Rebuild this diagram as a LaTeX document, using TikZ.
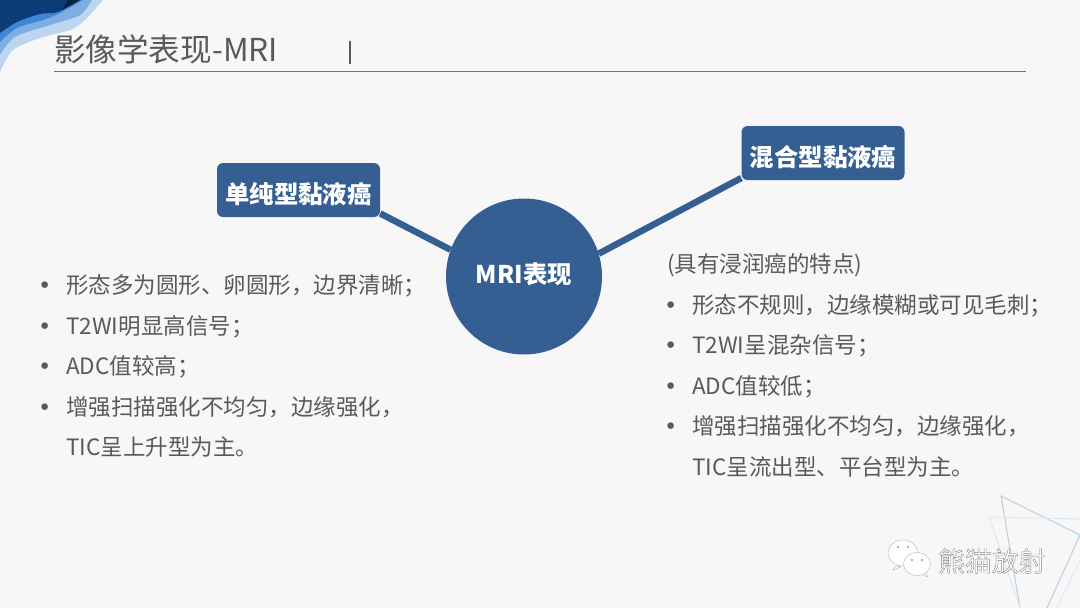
\documentclass[tikz,border=0pt]{standalone}
\usepackage{fontspec}
\setmainfont{Noto Sans CJK SC}
\newfontface\bulletfont{DejaVu Sans}
\newfontface\markfont[FakeBold=1.5]{Noto Sans CJK SC}
\usepackage{tikz}
\usetikzlibrary{positioning}

\definecolor{pagegray}{HTML}{F7F7F7}
\definecolor{hubblue}{HTML}{355E92}
\definecolor{bodygray}{HTML}{595959}
\definecolor{cornerA}{HTML}{BCD6F1}
\definecolor{cornerB}{HTML}{7FAEE3}
\definecolor{cornerC}{HTML}{3F86D6}
\definecolor{cornerD}{HTML}{0B3C75}
\definecolor{cornerE}{HTML}{06223F}
\definecolor{triA}{HTML}{B9CEE2}
\definecolor{triB}{HTML}{DBE9F1}

\newcommand{\blt}{\makebox[25pt][l]{\hspace{-3pt}{\bulletfont •}}}

\tikzset{
  heading/.style={rectangle, rounded corners=6pt, fill=hubblue, text=white, minimum width=163pt, minimum height=54pt, inner sep=0pt, text height=27pt, text depth=0pt, font=\fontsize{24.4}{28}\selectfont\bfseries},
  hubnode/.style={circle, fill=hubblue, text=white, minimum size=156pt, inner sep=0pt, text height=14pt, text depth=0pt, font=\fontsize{24.4}{28}\selectfont\bfseries},
  spoke/.style={hubblue, line width=6.5pt},
  bodylist/.style={anchor=north west, inner sep=0pt, align=left, text=bodygray, font=\fontsize{22.5}{40.5}\selectfont, execute at begin node=\setlength{\baselineskip}{40.5pt}},
  deco/.style={line width=1pt}
}

\begin{document}
\begin{tikzpicture}[x=1pt, y=-1pt]
\useasboundingbox (0,0) rectangle (1080,608);
\fill[pagegray] (0,0) rectangle (1080,608);

%% corner decoration
\fill[cornerA] (0,0) -- plot[smooth] coordinates {(0,72) (13,50) (40,38) (70,30) (85,20) (103,0)} -- cycle;
\fill[cornerB] (0,0) -- plot[smooth] coordinates {(0,55) (15,37) (50,25) (80,15) (92,0)} -- cycle;
\fill[cornerC] (0,0) -- plot[smooth] coordinates {(0,42) (17,28) (43,20) (60,13) (83,0)} -- cycle;
\fill[cornerD] (0,0) -- plot[smooth] coordinates {(0,33) (17,22) (40,14) (58,12) (80,0)} -- cycle;
\fill[cornerE] (68,0) -- (62,10) -- (80,0) -- cycle;

%% triangles lower right
\draw[deco, triA] (1080,535) -- (1001,496) -- (1020,608);
\draw[deco, triA] (1080,535) -- (1047,608);
\draw[deco, triB] (1080,519) -- (989,517) -- (1020,608);
\draw[deco, triB] (1080,560) -- (1057,608);

%% title
\node[anchor=west, inner sep=0pt, text=bodygray, font=\fontsize{31.6}{36}\selectfont] (title) at (54,49) {影像学表现-MRI};
\coordinate (rule_start) at (54,71.5);
\coordinate (rule_end) at (1026,71.5);
\draw[bodygray!85, line width=1pt] (rule_start) -- (rule_end);
\coordinate (bar_top) at (350,41);
\coordinate (bar_bot) at (350,64);
\draw[bodygray, line width=1.2pt] (bar_top) -- (bar_bot);

%% hub and headings
\node[hubnode] (hub) at (524,276.5) {MRI表现};
\node[heading] (simple) at (298.5,190) {单纯型黏液癌};
\node[heading] (mixed) at (823,153) {混合型黏液癌};

\draw[spoke] (simple.344) -- (hub.160);
\draw[spoke] (mixed.197) -- (hub.17);

%% lists
\node[bodylist] (simple_list) at (41,274.5) {
\blt 形态多为圆形、卵圆形，边界清晰；\\
\blt T2WI明显高信号；\\
\blt ADC值较高；\\
\blt 增强扫描强化不均匀，边缘强化，\\
\hspace*{25pt}TIC呈上升型为主。
};

\node[bodylist] (mixed_list) at (667,253.5) {
(具有浸润癌的特点)\\
\blt 形态不规则，边缘模糊或可见毛刺；\\
\blt T2WI呈混杂信号；\\
\blt ADC值较低；\\
\blt 增强扫描强化不均匀，边缘强化，\\
\hspace*{25pt}TIC呈流出型、平台型为主。
};

%% watermark
\fill[white, draw=gray!50, line width=0.5pt] (896,566) -- (893,570) -- (901,567) -- cycle;
\fill[white, draw=gray!50, line width=0.5pt] (903,553) ellipse [x radius=15, y radius=13];
\fill[white, draw=gray!50, line width=0.5pt] (925,572) -- (928,577) -- (921,574) -- cycle;
\fill[white, draw=gray!50, line width=0.5pt] (917,564) ellipse [x radius=13.5, y radius=11.5];
\fill[gray!60] (898,547) circle (1.3) (908,547) circle (1.3) (912,560) circle (1.3) (922,560) circle (1.3);
\node[anchor=west, inner sep=0pt, font=\fontsize{26.8}{30}\selectfont\markfont] (mark) at (938,561) {\special{pdf:bcolor [1] [0.5]}熊猫放射\special{pdf:ecolor}};

\end{tikzpicture}
\end{document}
